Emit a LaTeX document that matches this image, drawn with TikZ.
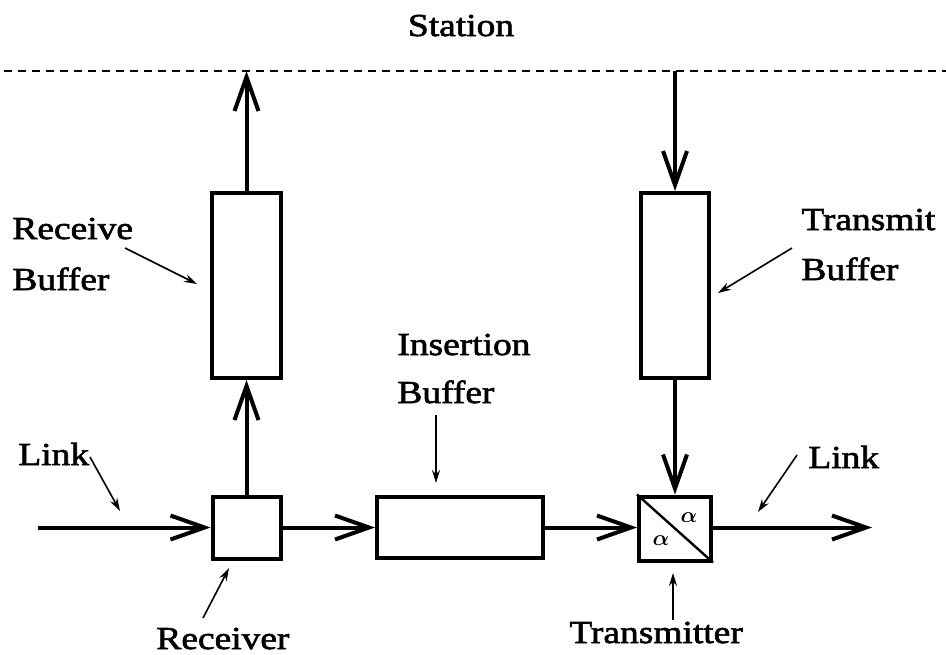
\documentclass[tikz,border=0pt]{standalone}
\usepackage{fontspec}
\setmainfont{Liberation Serif}[FakeStretch=1.17,FakeBold=2]
\usetikzlibrary{arrows.meta}
\begin{document}
\begin{tikzpicture}[x=0.5pt,y=-0.5pt,
  box/.style={draw, line width=2pt, inner sep=0pt},
  main/.style={line width=2pt, -{Straight Barb[length=17pt,width=12pt]}},
  ptr/.style={line width=0.8pt, -{Stealth[length=6.5pt,width=4pt]}},
  lbl/.style={inner sep=0pt, anchor=base west, font=\fontsize{16pt}{19pt}\selectfont},
  alphalbl/.style={inner sep=0pt, font=\fontsize{11pt}{13pt}\selectfont\boldmath}]
\useasboundingbox (0,0) rectangle (946,654);

% station boundary
\coordinate (dl) at (4,71);
\coordinate (dr) at (946,71);
\draw[line width=0.8pt, dash pattern=on 4pt off 3pt] (dl) -- (dr);
\node[lbl, anchor=base] (station) at (461,36) {Station};

% boxes
\node[box, minimum width=34.5pt, minimum height=92.5pt] (rb) at (246.5,285.5) {};
\node[box, minimum width=34pt, minimum height=92.5pt] (tb) at (675,285.5) {};
\node[box, minimum width=34pt, minimum height=31pt] (rcv) at (246.5,527.5) {};
\node[box, minimum width=83pt, minimum height=30.5pt] (ins) at (460,527.5) {};
\node[box, minimum width=36pt, minimum height=32pt] (tx) at (675,528.5) {};
\draw[line width=1.2pt] (tx.north west) -- (tx.south east);
\node[alphalbl] (a1) at (689,518) {$\alpha$};
\node[alphalbl] (a2) at (661,541) {$\alpha$};

% connection points
\coordinate (up) at (246.5,71);
\coordinate (down) at (675,71);
\coordinate (lin) at (38,527.5);
\coordinate (lout) at (872,527.5);

% main flow arrows
\draw[main] (lin) -- (rcv.west);
\draw[main] (rcv.north) -- (rb.south);
\draw[main] (rb.north) -- (up);
\draw[main] (rcv.east) -- (ins.west);
\draw[main] (ins.east) -- (tx.west |- ins.east);
\draw[main] (down) -- (tb.north);
\draw[main] (tb.south) -- (tx.north);
\draw[main] (tx.east |- lout) -- (lout);

% labels
\node[lbl] (rbl1) at (12,239) {Receive};
\node[lbl] (rbl2) at (12,290) {Buffer};
\node[lbl] (tbl1) at (801,230) {Transmit};
\node[lbl] (tbl2) at (801,280) {Buffer};
\node[lbl] (ibl1) at (397,355) {Insertion};
\node[lbl] (ibl2) at (397,403) {Buffer};
\node[lbl] (lk1) at (18,465) {Link};
\node[lbl] (lk2) at (808,468) {Link};
\node[lbl] (rcvl) at (156,649) {Receiver};
\node[lbl] (txl) at (569,643) {Transmitter};

% pointers
\coordinate (p1s) at (125,248); \coordinate (p1e) at (197,284);
\draw[ptr] (p1s) -- (p1e);
\coordinate (p2s) at (792,248); \coordinate (p2e) at (718,293);
\draw[ptr] (p2s) -- (p2e);
\coordinate (p3s) at (436,415); \coordinate (p3e) at (436,483);
\draw[ptr] (p3s) -- (p3e);
\coordinate (p4s) at (90,457); \coordinate (p4e) at (120,511);
\draw[ptr] (p4s) -- (p4e);
\coordinate (p5s) at (797,455); \coordinate (p5e) at (758,512);
\draw[ptr] (p5s) -- (p5e);
\coordinate (p6s) at (203,618); \coordinate (p6e) at (229,568);
\draw[ptr] (p6s) -- (p6e);
\coordinate (p7s) at (673,620); \coordinate (p7e) at (673,573);
\draw[ptr] (p7s) -- (p7e);
\end{tikzpicture}
\end{document}
